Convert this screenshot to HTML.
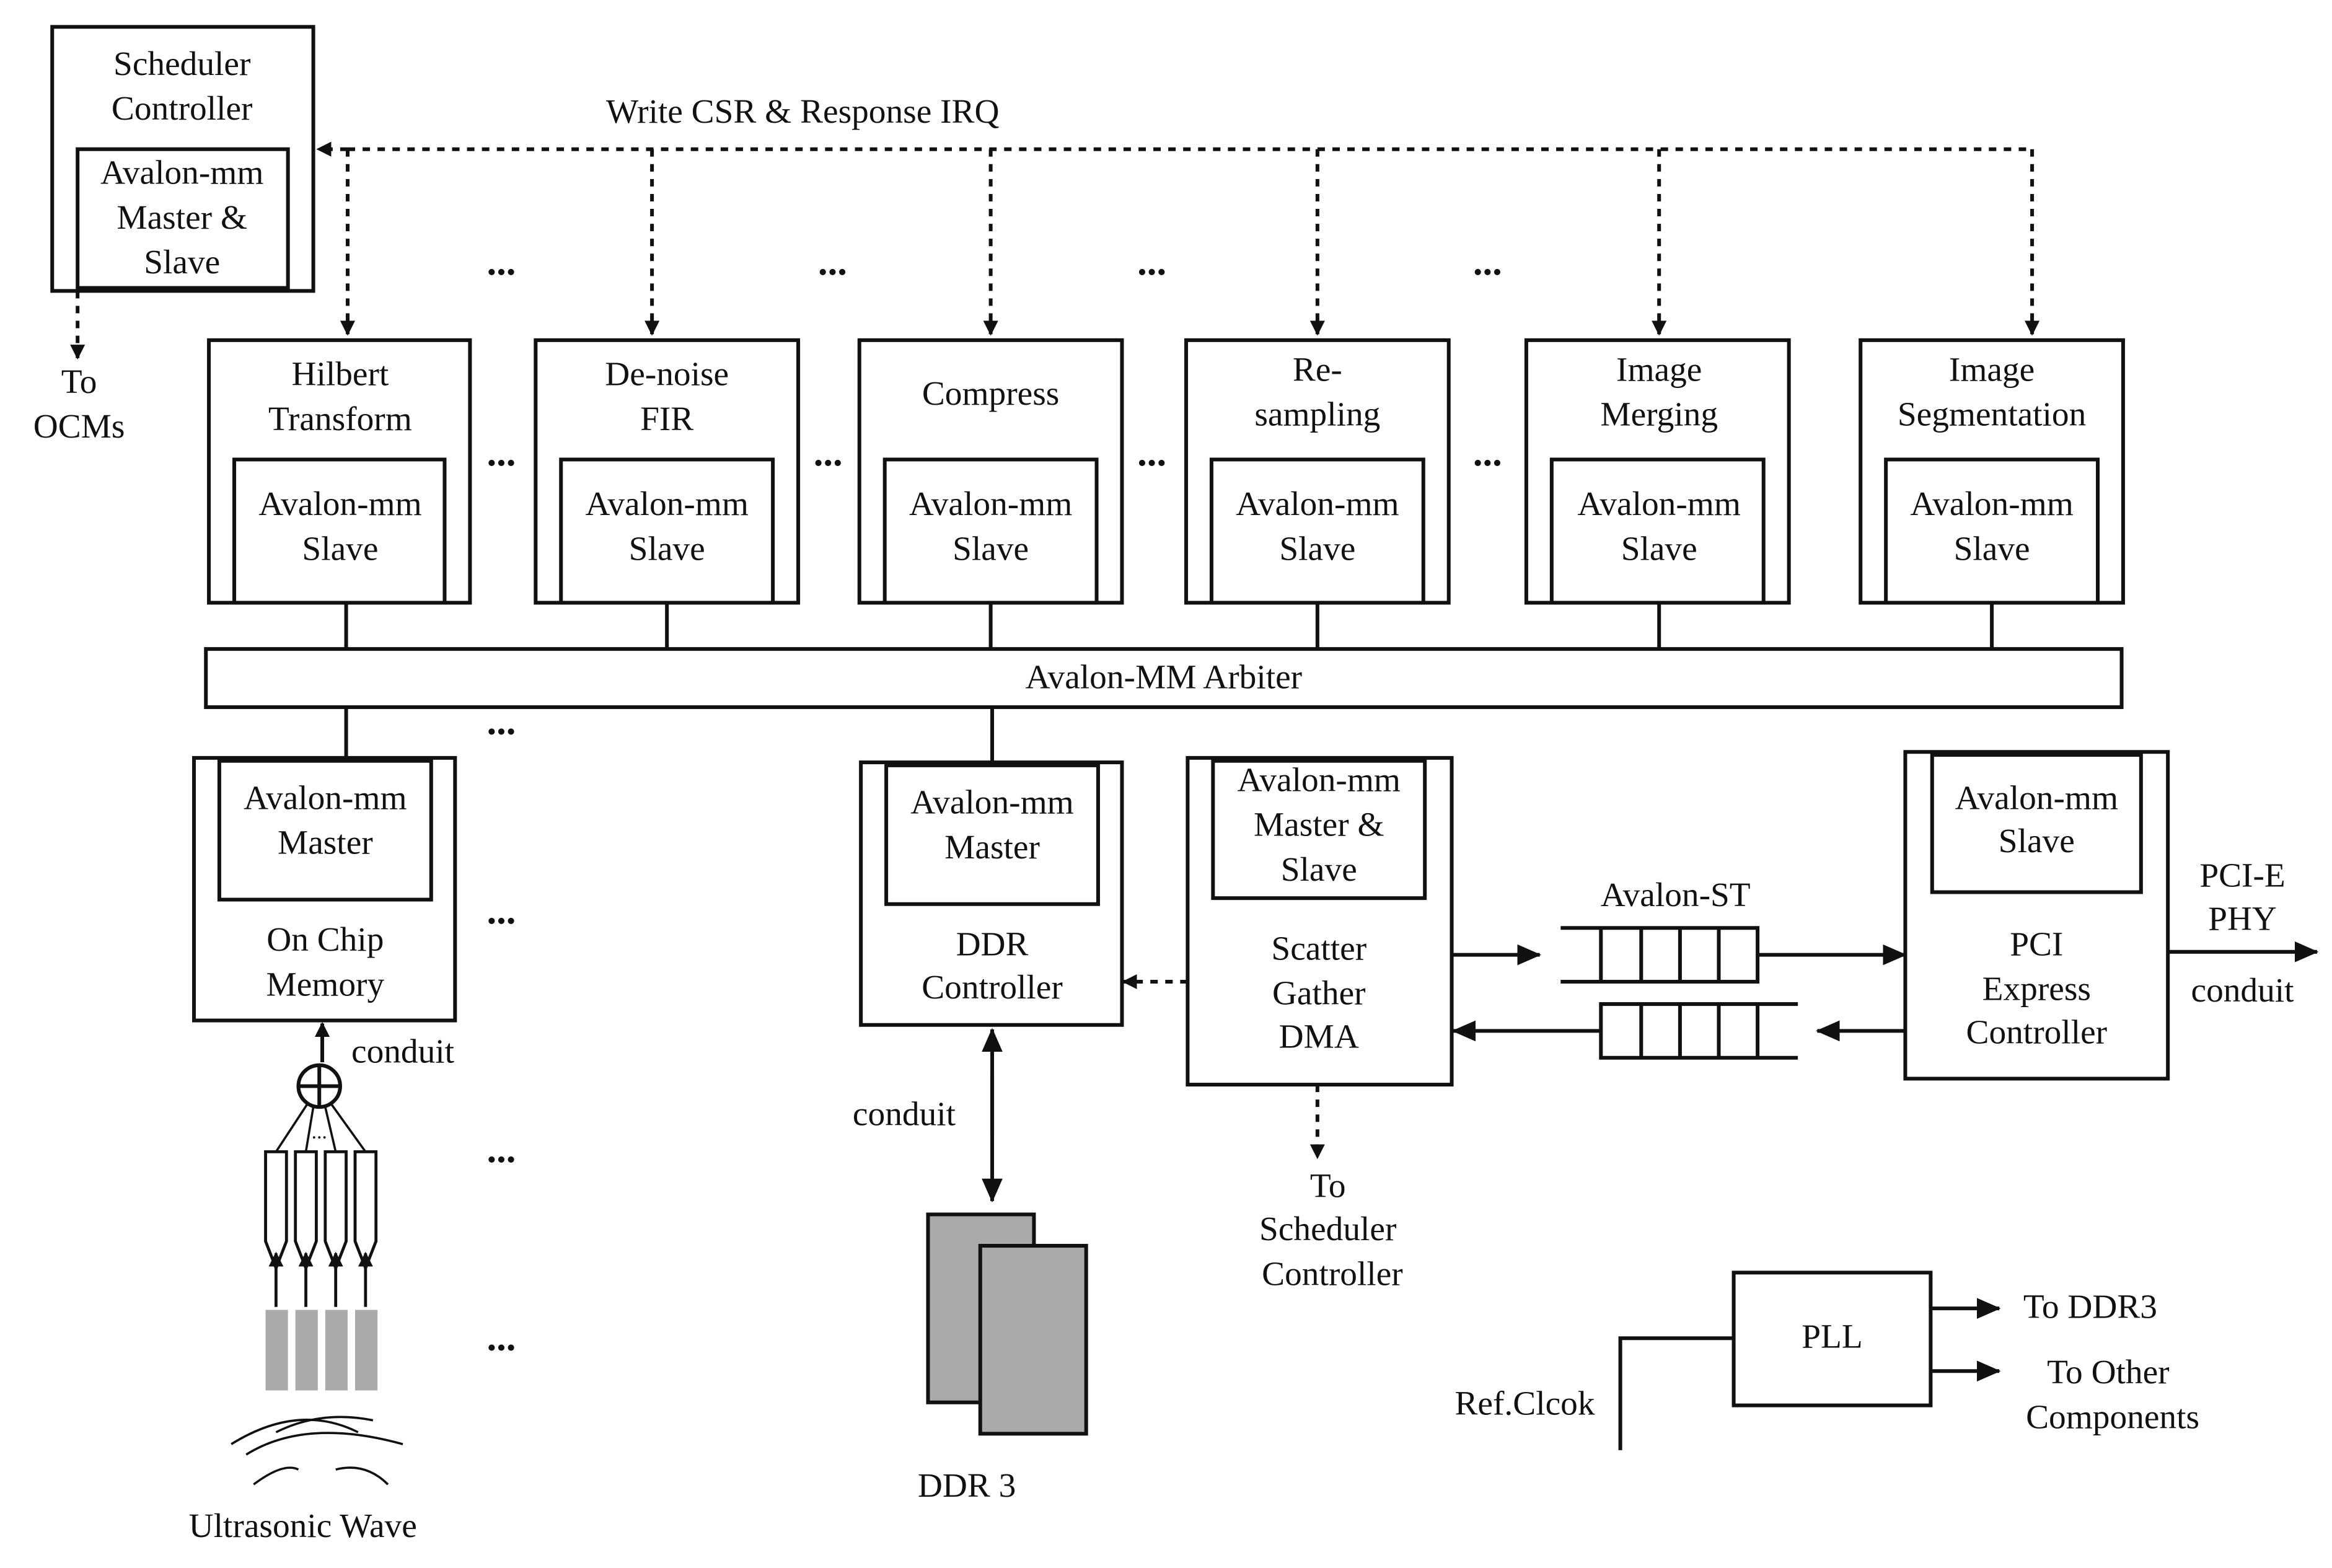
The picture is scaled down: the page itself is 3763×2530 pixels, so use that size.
<!DOCTYPE html>
<html><head><meta charset="utf-8"><style>
html,body{margin:0;padding:0;background:#fff;}
svg{display:block;}
text{font-family:"Liberation Serif",serif;font-size:23px;fill:#111;text-anchor:middle;dominant-baseline:middle;}
text.d{font-size:26px;font-weight:bold;}
</style></head><body>
<svg width="3763" height="2530" viewBox="0 0 1563 1051" preserveAspectRatio="none" xmlns="http://www.w3.org/2000/svg">
<defs>
<marker id="a" markerWidth="10" markerHeight="10" refX="9" refY="5" orient="auto" markerUnits="userSpaceOnUse"><path d="M0,0 L10,5 L0,10 z" fill="#111"/></marker>
<marker id="b" markerWidth="16" markerHeight="14" refX="15" refY="7" orient="auto" markerUnits="userSpaceOnUse"><path d="M0,0 L16,7 L0,14 z" fill="#111"/></marker>
</defs>
<g fill="none" stroke="#111" stroke-width="2.5">
<rect x="35" y="18" width="175" height="177"/>
<rect x="52" y="100" width="141" height="93"/>
<rect x="140" y="228" width="175" height="176"/><rect x="157" y="308" width="141" height="96"/>
<rect x="359" y="228" width="176" height="176"/><rect x="376" y="308" width="142" height="96"/>
<rect x="576" y="228" width="176" height="176"/><rect x="593" y="308" width="142" height="96"/>
<rect x="795" y="228" width="176" height="176"/><rect x="812" y="308" width="142" height="96"/>
<rect x="1023" y="228" width="176" height="176"/><rect x="1040" y="308" width="142" height="96"/>
<rect x="1247" y="228" width="176" height="176"/><rect x="1264" y="308" width="142" height="96"/>
<rect x="138" y="435" width="1284" height="39"/>
<path d="M232 404V435M447 404V435M664 404V435M883 404V435M1112 404V435M1335 404V435M232 474V508M665 474V511"/>
<rect x="130" y="508" width="175" height="176"/><rect x="147" y="510" width="142" height="93"/>
<rect x="577" y="511" width="175" height="176"/><rect x="594" y="513" width="142" height="93"/>
<rect x="796" y="508" width="177" height="219"/><rect x="813" y="510" width="142" height="92"/>
<rect x="1277" y="504" width="176" height="219"/><rect x="1295" y="506" width="140" height="92"/>
<path d="M1046 622H1178V658H1046M1073 622V658M1100 622V658M1126 622V658M1152 622V658"/>
<path d="M1205 673H1073V709H1205M1100 673V709M1126 673V709M1152 673V709M1178 673V709"/>
<rect x="1162" y="853" width="132" height="89"/>
<path d="M1086 972V897H1162"/>
</g>
<g fill="none" stroke="#111" stroke-width="2.5" stroke-dasharray="5,5">
<path d="M233 100H1362"/>
<path d="M233 100V224" marker-end="url(#a)"/>
<path d="M437 100V224" marker-end="url(#a)"/>
<path d="M664 100V224" marker-end="url(#a)"/>
<path d="M883 100V224" marker-end="url(#a)"/>
<path d="M1112 100V224" marker-end="url(#a)"/>
<path d="M1362 100V224" marker-end="url(#a)"/>
<path d="M233 100H213" marker-end="url(#a)"/>
<path d="M52 195V240" marker-end="url(#a)"/>
<path d="M796 658H753" marker-end="url(#a)"/>
<path d="M883 727V776" marker-end="url(#a)"/>
</g>
<g fill="none" stroke="#111" stroke-width="2.5">
<path d="M973 640H1032" marker-end="url(#b)"/>
<path d="M1178 640H1277" marker-end="url(#b)"/>
<path d="M1277 691H1218" marker-end="url(#b)"/>
<path d="M1073 691H974" marker-end="url(#b)"/>
<path d="M1453 638H1553" marker-end="url(#b)"/>
<path d="M1294 877H1340" marker-end="url(#b)"/>
<path d="M1294 919H1340" marker-end="url(#b)"/>
<path d="M665 720V805" marker-end="url(#b)"/>
<path d="M665 760V690" marker-end="url(#b)"/>
<path d="M216 712V686" marker-end="url(#a)"/>
<circle cx="214" cy="728" r="14"/>
<path d="M200 728H228M214 714V742"/>
<path d="M206 740L185 772M210 742L205 772M218 742L225 772M222 740L245 772" stroke-width="1.5"/>
<path d="M178 772H192V832L185 850L178 832Z M198 772H212V832L205 850L198 832Z M218 772H232V832L225 850L218 832Z M238 772H252V832L245 850L238 832Z" stroke-width="2"/>
<path d="M185 876V840" marker-end="url(#a)" stroke-width="2"/>
<path d="M205 876V840" marker-end="url(#a)" stroke-width="2"/>
<path d="M225 876V840" marker-end="url(#a)" stroke-width="2"/>
<path d="M245 876V840" marker-end="url(#a)" stroke-width="2"/>
<path d="M155 968Q200 940 240 960M165 975Q205 950 270 968M170 995Q190 980 200 985M225 985Q245 980 260 995M185 960Q215 945 250 952" stroke-width="1.5"/>
</g>
<g fill="#aaa" stroke="#111" stroke-width="2.5">
<rect x="622" y="814" width="71" height="126"/>
<rect x="657" y="835" width="71" height="126"/>
<rect x="178" y="878" width="15" height="54" stroke="none"/>
<rect x="198" y="878" width="15" height="54" stroke="none"/>
<rect x="218" y="878" width="15" height="54" stroke="none"/>
<rect x="238" y="878" width="15" height="54" stroke="none"/>
</g>
<text x="122" y="45">Scheduler</text><text x="122" y="75">Controller</text>
<text x="122" y="118">Avalon-mm</text><text x="122" y="148">Master &amp;</text><text x="122" y="178">Slave</text>
<text x="53" y="258">To</text><text x="53" y="288">OCMs</text>
<text x="538" y="77">Write CSR &amp; Response IRQ</text>
<text class="d" x="336" y="178">...</text><text class="d" x="558" y="178">...</text><text class="d" x="772" y="178">...</text><text class="d" x="997" y="178">...</text>
<text class="d" x="336" y="306">...</text><text class="d" x="555" y="306">...</text><text class="d" x="772" y="306">...</text><text class="d" x="997" y="306">...</text>
<text x="228" y="253">Hilbert</text><text x="228" y="283">Transform</text>
<text x="447" y="253">De-noise</text><text x="447" y="283">FIR</text>
<text x="664" y="266">Compress</text>
<text x="883" y="250">Re-</text><text x="883" y="280">sampling</text>
<text x="1112" y="250">Image</text><text x="1112" y="280">Merging</text>
<text x="1335" y="250">Image</text><text x="1335" y="280">Segmentation</text>
<text x="228" y="340">Avalon-mm</text><text x="228" y="370">Slave</text>
<text x="447" y="340">Avalon-mm</text><text x="447" y="370">Slave</text>
<text x="664" y="340">Avalon-mm</text><text x="664" y="370">Slave</text>
<text x="883" y="340">Avalon-mm</text><text x="883" y="370">Slave</text>
<text x="1112" y="340">Avalon-mm</text><text x="1112" y="370">Slave</text>
<text x="1335" y="340">Avalon-mm</text><text x="1335" y="370">Slave</text>
<text x="780" y="456">Avalon-MM Arbiter</text>
<text class="d" x="336" y="486">...</text><text class="d" x="336" y="613">...</text><text class="d" x="336" y="773">...</text><text class="d" x="336" y="899">...</text>
<text x="218" y="537">Avalon-mm</text><text x="218" y="567">Master</text>
<text x="218" y="632">On Chip</text><text x="218" y="662">Memory</text>
<text x="665" y="540">Avalon-mm</text><text x="665" y="570">Master</text>
<text x="665" y="635">DDR</text><text x="665" y="664">Controller</text>
<text x="884" y="525">Avalon-mm</text><text x="884" y="555">Master &amp;</text><text x="884" y="585">Slave</text>
<text x="884" y="638">Scatter</text><text x="884" y="668">Gather</text><text x="884" y="697">DMA</text>
<text x="1365" y="537">Avalon-mm</text><text x="1365" y="566">Slave</text>
<text x="1365" y="635">PCI</text><text x="1365" y="665">Express</text><text x="1365" y="694">Controller</text>
<text x="1123" y="602">Avalon-ST</text>
<text x="1503" y="589">PCI-E</text><text x="1503" y="618">PHY</text><text x="1503" y="666">conduit</text>
<text x="606" y="749">conduit</text>
<text x="648" y="998">DDR 3</text>
<text x="890" y="797">To</text><text x="890" y="826">Scheduler</text><text x="893" y="856">Controller</text>
<text x="1228" y="898">PLL</text>
<text x="1401" y="878">To DDR3</text><text x="1413" y="922">To Other</text><text x="1416" y="952">Components</text>
<text x="1022" y="943">Ref.Clcok</text>
<text x="270" y="707">conduit</text>
<text x="214" y="760" style="font-size:14px">...</text>
<text x="203" y="1025">Ultrasonic Wave</text>
</svg>
</body></html>
